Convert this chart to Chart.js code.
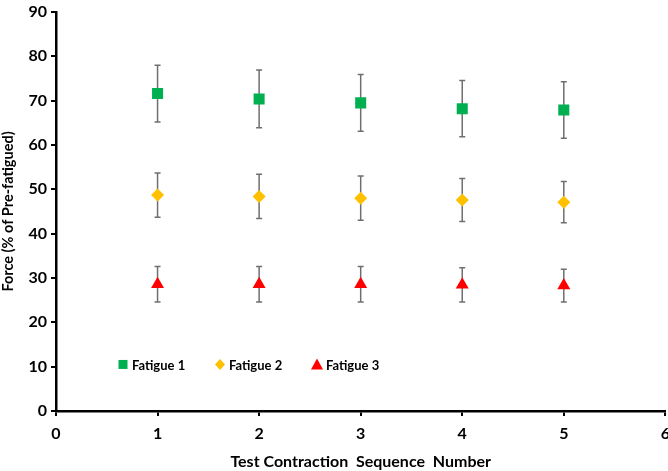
<!DOCTYPE html>
<html>
<head>
<meta charset="utf-8">
<script src="https://cdn.jsdelivr.net/npm/chart.js@4.4.1/dist/chart.umd.min.js"></script>
<style>
  html, body { margin: 0; padding: 0; background: #fff; overflow: hidden; }
  #wrap { width: 680px; height: 471px; }
</style>
</head>
<body>
<div id="wrap"><canvas id="chart"></canvas></div>
<script>
// sequence numbers on the x axis
const sequence = [1, 2, 3, 4, 5];

// mean force (% of pre-fatigued) and error bar half-lengths
const fatigue1 = [71.6, 70.4, 69.5, 68.2, 67.9];
const fatigue1Err = [6.4, 6.5, 6.4, 6.35, 6.35];
const fatigue2 = [48.7, 48.4, 48.0, 47.6, 47.1];
const fatigue2Err = [5.0, 5.0, 5.0, 4.85, 4.65];
const fatigue3 = [28.6, 28.6, 28.6, 28.45, 28.3];
const fatigue3Err = [4.0, 4.0, 4.0, 3.85, 3.7];

const seriesNames = ['Fatigue 1', 'Fatigue 2', 'Fatigue 3'];

const FONT = 'Lato, "Open Sans", sans-serif';

function toPoints(values) {
    return sequence.map((x, i) => ({ x: x, y: values[i] }));
}

// vertical error bars with caps, drawn under the markers
const errorBars = {
    id: 'errorBars',
    beforeDatasetsDraw(chart) {
        const ctx = chart.ctx;
        const xs = chart.scales.x;
        const ys = chart.scales.y;
        ctx.save();
        ctx.strokeStyle = '#6f6f6f';
        ctx.lineWidth = 1.5;
        chart.data.datasets.forEach(ds => {
            ds.data.forEach((p, i) => {
                const px = xs.getPixelForValue(p.x);
                const top = ys.getPixelForValue(p.y + ds.err[i]);
                const bot = ys.getPixelForValue(p.y - ds.err[i]);
                ctx.beginPath();
                ctx.moveTo(px, top); ctx.lineTo(px, bot);
                ctx.moveTo(px - 3, top); ctx.lineTo(px + 3, top);
                ctx.moveTo(px - 3, bot); ctx.lineTo(px + 3, bot);
                ctx.stroke();
            });
        });
        ctx.restore();
    }
};

// legend sitting inside the plot, near y = 10
const innerLegend = {
    id: 'innerLegend',
    afterDraw(chart) {
        const ctx = chart.ctx;
        const area = chart.chartArea;
        const y = chart.scales.y.getPixelForValue(10.5);
        const offsets = [67, 164, 261];
        ctx.save();
        ctx.font = 'bold 13px ' + FONT;
        ctx.textBaseline = 'middle';
        chart.data.datasets.forEach((ds, i) => {
            const x = area.left + offsets[i];
            ctx.fillStyle = ds.backgroundColor;
            ctx.beginPath();
            if (ds.pointStyle === 'rect') {
                ctx.rect(x - 4.5, y - 4.5, 9, 9);
            } else if (ds.pointStyle === 'rectRot') {
                ctx.moveTo(x, y - 5.5); ctx.lineTo(x + 5, y);
                ctx.lineTo(x, y + 5.5); ctx.lineTo(x - 5, y);
                ctx.closePath();
            } else {
                ctx.moveTo(x, y - 6); ctx.lineTo(x + 6, y + 5);
                ctx.lineTo(x - 6, y + 5); ctx.closePath();
            }
            ctx.fill();
            ctx.fillStyle = '#000';
            ctx.fillText(ds.label, x + 9, y + 1);
        });
        ctx.restore();
    }
};

new Chart(document.getElementById('chart'), {
    type: 'scatter',
    data: {
        datasets: [
            {
                label: seriesNames[0],
                data: toPoints(fatigue1),
                err: fatigue1Err,
                pointStyle: 'rect',
                pointRadius: 7.8,
                backgroundColor: '#00b050',
                borderColor: '#00b050',
                borderWidth: 0
            },
            {
                label: seriesNames[1],
                data: toPoints(fatigue2),
                err: fatigue2Err,
                pointStyle: 'rectRot',
                pointRadius: 6.5,
                backgroundColor: '#ffc000',
                borderColor: '#ffc000',
                borderWidth: 0
            },
            {
                label: seriesNames[2],
                data: toPoints(fatigue3),
                err: fatigue3Err,
                pointStyle: 'triangle',
                pointRadius: 7.5,
                backgroundColor: '#ff0000',
                borderColor: '#ff0000',
                borderWidth: 0
            }
        ]
    },
    options: {
        responsive: true,
        maintainAspectRatio: false,
        animation: false,
        layout: { padding: 0 },
        scales: {
            x: {
                type: 'linear',
                min: 0,
                max: 6,
                ticks: {
                    stepSize: 1,
                    color: '#000',
                    padding: 10,
                    font: { family: FONT, size: 16, weight: 'bold', lineHeight: 1 }
                },
                grid: {
                    display: true,
                    drawOnChartArea: false,
                    drawTicks: true,
                    tickLength: 5,
                    color: '#000',
                    lineWidth: 2
                },
                border: { color: '#000', width: 2.5 },
                title: {
                    display: true,
                    text: 'Test Contraction  Sequence  Number',
                    color: '#000',
                    padding: { top: 2, bottom: 0 },
                    font: { family: FONT, size: 16, weight: 'bold' }
                },
                afterFit(scale) { scale.height = 60; }
            },
            y: {
                min: 0,
                max: 90,
                ticks: {
                    stepSize: 10,
                    color: '#000',
                    padding: 4,
                    font: { family: FONT, size: 16, weight: 'bold', lineHeight: 1 }
                },
                grid: {
                    display: true,
                    drawOnChartArea: false,
                    drawTicks: true,
                    tickLength: 5,
                    color: '#000',
                    lineWidth: 2
                },
                border: { color: '#000', width: 2.5 },
                title: {
                    display: true,
                    text: 'Force (% of Pre-fatigued)',
                    color: '#000',
                    padding: { top: 0, bottom: 3 },
                    font: { family: FONT, size: 14.5, weight: 'bold' }
                },
                afterFit(scale) { scale.width = 56; }
            }
        },
        plugins: {
            legend: { display: false },
            tooltip: { enabled: false }
        }
    },
    plugins: [errorBars, innerLegend]
});
</script>
</body>
</html>
